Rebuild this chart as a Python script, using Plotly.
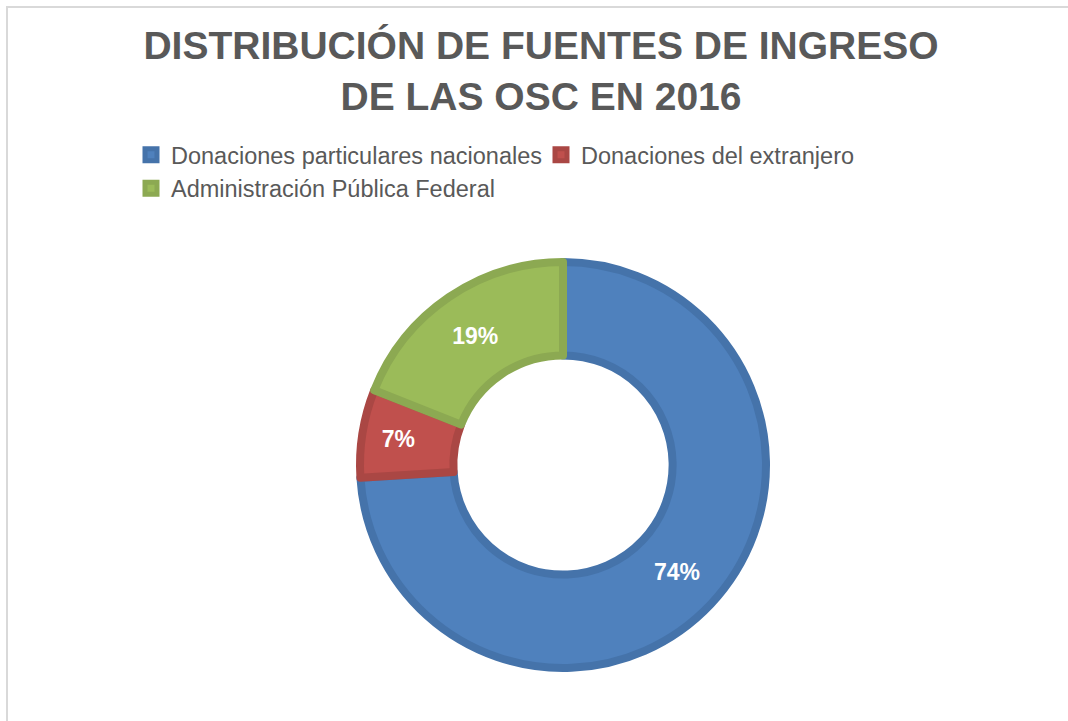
import plotly.graph_objects as go

categories = ["Donaciones particulares nacionales", "Donaciones del extranjero", "Administración Pública Federal"]
values = [74, 7, 19]
fill_colors = ["#4F81BD", "#C0504D", "#9BBB59"]
border_colors = ["#4573AA", "#AA4744", "#8CA952"]

W, H = 1068, 721
cx, cy = 563, 465
line_w = 8
r = 207 - line_w / 2

fig = go.Figure(go.Pie(
    labels=categories,
    values=values,
    sort=False,
    direction="clockwise",
    rotation=0,
    hole=0.54,
    marker=dict(colors=fill_colors, line=dict(color=border_colors, width=line_w)),
    texttemplate="%{value}%",
    textposition="inside",
    insidetextorientation="horizontal",
    textfont=dict(family="Liberation Sans, Arial", size=23, color="white", weight="bold"),
    domain=dict(x=[(cx - r) / W, (cx + r) / W], y=[(H - cy - r) / H, (H - cy + r) / H]),
    hoverinfo="label+percent",
))

fig.update_layout(
    width=W, height=H,
    margin=dict(l=0, r=0, t=0, b=0),
    paper_bgcolor="white",
    plot_bgcolor="white",
    title=dict(
        text="DISTRIBUCIÓN DE FUENTES DE INGRESO<br>DE LAS OSC EN 2016",
        x=541 / W, xanchor="center", y=1 - 59 / H, yanchor="top",
        font=dict(family="Liberation Sans, Arial", size=39, color="#595959", weight="bold"),
    ),
    legend=dict(
        orientation="h",
        x=131 / W, xanchor="left",
        y=1 - 133 / H, yanchor="top",
        font=dict(family="Liberation Sans, Arial", size=23.5, color="#595959"),
        itemwidth=30,
        entrywidth=365,
        entrywidthmode="pixels",
        traceorder="normal",
    ),
    shapes=[dict(
        type="rect", xref="paper", yref="paper",
        x0=7 / W, x1=1.02, y0=-0.02, y1=1 - 7 / H,
        line=dict(color="#D9D9D9", width=2), fillcolor="rgba(0,0,0,0)", layer="below",
    )],
)

fig.write_html("out.html")
